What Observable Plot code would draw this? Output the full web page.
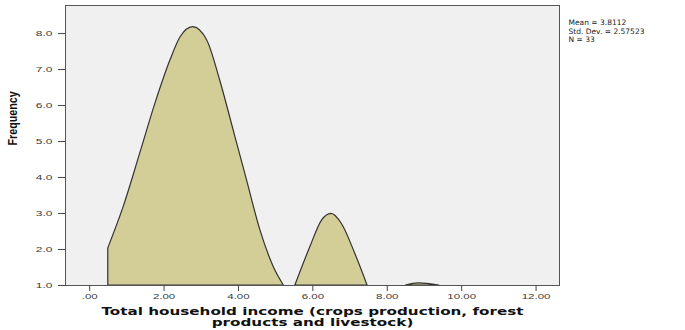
<!DOCTYPE html>
<html>
<head>
<meta charset="utf-8">
<script src="https://cdn.jsdelivr.net/npm/d3@7"></script>
<script src="https://cdn.jsdelivr.net/npm/@observablehq/plot@0.6"></script>
<style>
  html, body { margin: 0; padding: 0; background: #ffffff; }
  #chart svg { display: block; }
</style>
</head>
<body>
<div id="chart"></div>
<script>
// Smoothed frequency outline of total household income (three humps)
const hump1Income = [0.5, 0.91, 1.36, 1.77, 2.17, 2.44, 2.78, 3.16, 3.51, 3.87, 4.23, 4.59, 4.95, 5.22];
const hump1Freq   = [2.03, 3.17, 4.67, 6.06, 7.25, 7.89, 8.18, 7.81, 6.69, 5.31, 3.92, 2.53, 1.51, 1.0];
const hump2Income = [5.53, 5.93, 6.25, 6.5, 6.78, 7.14, 7.47];
const hump2Freq   = [1.0, 2.06, 2.81, 2.99, 2.71, 1.88, 1.0];
const hump3Income = [8.5, 8.85, 9.4];
const hump3Freq   = [1.0, 1.06, 1.0];

// Axis ticks
const xTicks = [0, 2, 4, 6, 8, 10, 12];
const yTicks = [1, 2, 3, 4, 5, 6, 7, 8];

// Summary statistics
const statLines = ["Mean = 3.8112", "Std. Dev. = 2.57523", "N = 33"];

const xTitle = "Total household income (crops production, forest\nproducts and livestock)";
const yTitle = "Frequency";

const curve = [
  ...hump1Income.map((x, i) => ({income: x, freq: hump1Freq[i], hump: 1})),
  ...hump2Income.map((x, i) => ({income: x, freq: hump2Freq[i], hump: 2})),
  ...hump3Income.map((x, i) => ({income: x, freq: hump3Freq[i], hump: 3}))
];

const SANS = "'Liberation Sans', Arial, sans-serif";
const WIDE = "'DejaVu Sans', Verdana, sans-serif";

const svg = Plot.plot({
  width: 685,
  height: 330,
  marginLeft: 65,
  marginRight: 126,
  marginTop: 5,
  marginBottom: 45,
  style: {background: "#ffffff", fontFamily: SANS, color: "#3a3a3a"},
  x: {domain: [-0.65, 12.63]},
  y: {domain: [1, 8.78]},
  marks: [
    Plot.frame({fill: "#f0f0f0", stroke: null}),
    Plot.areaY(curve, {
      x: "income", y1: 1, y2: "freq", z: "hump",
      curve: "monotone-x",
      fill: "#d3ce97", stroke: "#333333", strokeWidth: 1.2
    }),
    Plot.frame({stroke: "#555555", strokeWidth: 1}),
    Plot.axisX({
      ticks: xTicks, tickSize: 6, tickPadding: 2,
      tickFormat: d => d === 0 ? ".00" : d.toFixed(2),
      fontSize: 11.5, label: null, stroke: "#444"
    }),
    Plot.axisY({
      ticks: yTicks, tickSize: 7, tickPadding: 6,
      tickFormat: d => d.toFixed(1),
      fontSize: 12, label: null, stroke: "#444"
    }),
    Plot.text([xTitle], {
      frameAnchor: "bottom", lineAnchor: "middle", dy: 31.5,
      fontFamily: WIDE, fontSize: 15.2, fontWeight: "bold", lineHeight: 1.05,
      fill: "#111"
    }),
    Plot.text([yTitle], {
      frameAnchor: "left", dx: -53, rotate: -90,
      fontSize: 12.5, fontWeight: "bold", fill: "#111"
    }),
    Plot.text([statLines.join("\n")], {
      frameAnchor: "top-right", textAnchor: "start", lineAnchor: "top",
      dx: 9, dy: 14, fontFamily: WIDE, fontSize: 7.5, lineHeight: 1.1,
      fill: "#222"
    })
  ]
});

// Scale a text element about its own anchor point
function squeeze(el, sx, sy) {
  const t = el.getAttribute("transform") || "";
  let tx = 0, ty = 0;
  const x = el.getAttribute("x"), y = el.getAttribute("y");
  if (x != null && !/em$/.test(x)) { tx = +x; el.removeAttribute("x"); }
  if (y != null && !/em$/.test(y)) { ty = +y; el.removeAttribute("y"); }
  el.setAttribute("transform", `${t} translate(${tx},${ty}) scale(${sx},${sy})`);
}
const root = d3.select(svg);
root.selectAll('[aria-label="x-axis tick label"] text, [aria-label="y-axis tick label"] text')
  .each(function() { squeeze(this, 1, 0.62); });
root.selectAll("text")
  .filter(function() { return this.textContent.startsWith("Total"); })
  .each(function() { squeeze(this, 1, 0.7); });
root.selectAll("text")
  .filter(function() { return this.textContent === yTitle; })
  .each(function() { squeeze(this, 0.86, 1); });

document.getElementById("chart").appendChild(svg);
</script>
</body>
</html>
